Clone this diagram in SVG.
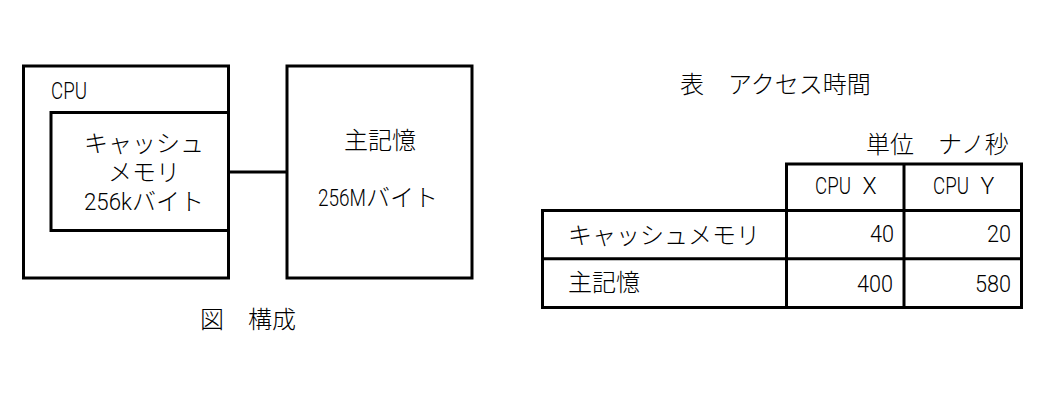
<svg xmlns="http://www.w3.org/2000/svg" width="1044" height="411" viewBox="0 0 1044 411">
  <style>
    .box { fill: none; stroke: #000; stroke-width: 3; }
    .ln { stroke: #000; stroke-width: 3; fill: none; }
    .jp { font-family: "Noto Sans CJK JP", "Noto Sans CJK SC", sans-serif; font-size: 24px; font-weight: 300; fill: #000; }
    .lat { font-family: Roboto, "Liberation Sans", sans-serif; font-size: 23px; font-weight: 300; fill: #000; }
  </style>
  <rect width="1044" height="411" fill="#fff"/>

  <g id="cpu">
    <rect class="box" x="23.5" y="66" width="205" height="212"/>
    <text class="lat" x="51" y="99" textLength="36" lengthAdjust="spacingAndGlyphs">CPU</text>
  </g>

  <g id="cache-memory">
    <rect class="box" x="51" y="112.5" width="177.5" height="118"/>
    <text class="jp"><tspan x="84" y="152">キャッシュ</tspan><tspan x="108" y="181">メモリ</tspan><tspan class="lat" x="84" y="210" textLength="48" lengthAdjust="spacingAndGlyphs">256k</tspan><tspan>バイト</tspan></text>
  </g>

  <g id="main-memory">
    <rect class="box" x="287" y="66" width="185" height="212"/>
    <text class="jp"><tspan x="344" y="149">主記憶</tspan><tspan class="lat" x="318" y="206" textLength="48" lengthAdjust="spacingAndGlyphs">256M</tspan><tspan>バイト</tspan></text>
  </g>

  <g id="connectors">
    <line class="ln" x1="228.5" y1="172" x2="287" y2="172"/>
  </g>

  <g id="figure-caption">
    <text class="jp" x="200" y="328">図　構成</text>
  </g>

  <g id="access-time-table">
    <text class="jp" x="680" y="93">表　アクセス時間</text>
    <text class="jp" x="866" y="153">単位　ナノ秒</text>
    <rect class="box" x="786.5" y="164" width="235" height="46.5"/>
    <line class="ln" x1="904" y1="164" x2="904" y2="307.5"/>
    <rect class="box" x="542.5" y="210.5" width="479" height="97"/>
    <line class="ln" x1="542.5" y1="258.8" x2="1021.5" y2="258.8"/>
    <line class="ln" x1="786.5" y1="210.5" x2="786.5" y2="307.5"/>
    <text class="lat" y="194"><tspan x="815" textLength="36" lengthAdjust="spacingAndGlyphs">CPU</tspan><tspan x="857"> X</tspan></text>
    <text class="lat" y="194"><tspan x="933" textLength="36" lengthAdjust="spacingAndGlyphs">CPU</tspan><tspan x="975"> Y</tspan></text>
    <text class="jp" x="568" y="244">キャッシュメモリ</text>
    <text class="lat" x="870" y="242" textLength="24" lengthAdjust="spacingAndGlyphs">40</text>
    <text class="lat" x="987" y="242" textLength="24" lengthAdjust="spacingAndGlyphs">20</text>
    <text class="jp" x="568" y="291">主記憶</text>
    <text class="lat" x="857" y="292" textLength="36" lengthAdjust="spacingAndGlyphs">400</text>
    <text class="lat" x="975" y="292" textLength="36" lengthAdjust="spacingAndGlyphs">580</text>
  </g>
</svg>
